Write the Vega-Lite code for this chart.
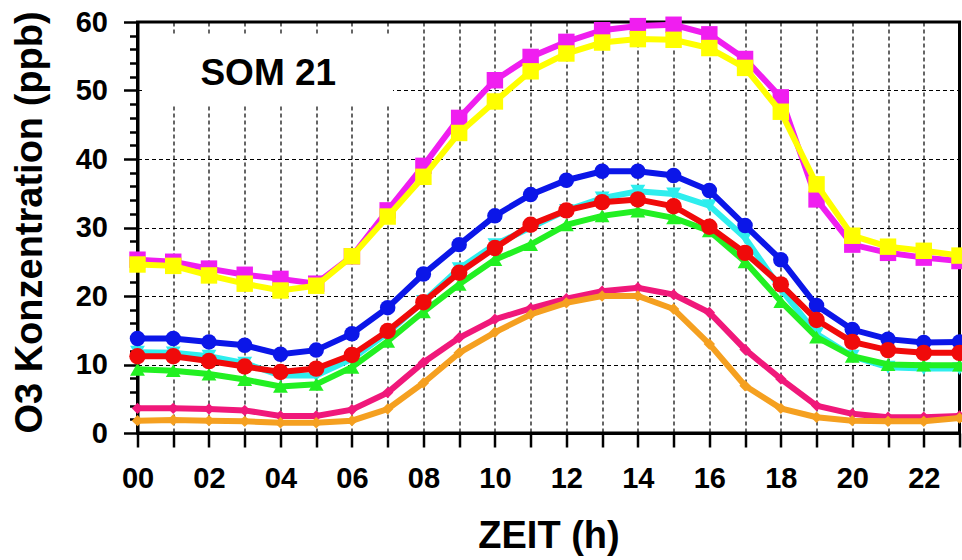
{
  "$schema": "https://vega.github.io/schema/vega-lite/v6.json",
  "width": 822,
  "height": 411,
  "autosize": {"type": "none"},
  "padding": {"left": 137.5, "top": 22, "right": 2.5, "bottom": 127},
  "background": "white",
  "config": {
    "view": {"stroke": "black", "strokeWidth": 3},
    "font": "Liberation Sans"
  },
  "data": {"values": [
    {"h":0,"s":"M","v":25.3},{"h":1,"s":"M","v":25.0},{"h":2,"s":"M","v":24.0},{"h":3,"s":"M","v":23.1},{"h":4,"s":"M","v":22.5},{"h":5,"s":"M","v":21.8},{"h":6,"s":"M","v":25.8},{"h":7,"s":"M","v":32.5},{"h":8,"s":"M","v":39.0},{"h":9,"s":"M","v":46.0},{"h":10,"s":"M","v":51.5},{"h":11,"s":"M","v":54.9},{"h":12,"s":"M","v":57.1},{"h":13,"s":"M","v":58.8},{"h":14,"s":"M","v":59.4},{"h":15,"s":"M","v":59.6},{"h":16,"s":"M","v":58.2},{"h":17,"s":"M","v":54.6},{"h":18,"s":"M","v":49.0},{"h":19,"s":"M","v":34.1},{"h":20,"s":"M","v":27.5},{"h":21,"s":"M","v":26.3},{"h":22,"s":"M","v":25.6},{"h":23,"s":"M","v":25.1},
    {"h":0,"s":"Y","v":24.6},{"h":1,"s":"Y","v":24.4},{"h":2,"s":"Y","v":23.0},{"h":3,"s":"Y","v":21.8},{"h":4,"s":"Y","v":20.8},{"h":5,"s":"Y","v":21.5},{"h":6,"s":"Y","v":25.8},{"h":7,"s":"Y","v":31.6},{"h":8,"s":"Y","v":37.4},{"h":9,"s":"Y","v":43.8},{"h":10,"s":"Y","v":48.4},{"h":11,"s":"Y","v":52.8},{"h":12,"s":"Y","v":55.4},{"h":13,"s":"Y","v":57.0},{"h":14,"s":"Y","v":57.5},{"h":15,"s":"Y","v":57.4},{"h":16,"s":"Y","v":56.2},{"h":17,"s":"Y","v":53.3},{"h":18,"s":"Y","v":46.9},{"h":19,"s":"Y","v":36.3},{"h":20,"s":"Y","v":28.8},{"h":21,"s":"Y","v":27.2},{"h":22,"s":"Y","v":26.6},{"h":23,"s":"Y","v":25.9},
    {"h":0,"s":"C","v":11.8},{"h":1,"s":"C","v":11.7},{"h":2,"s":"C","v":11.2},{"h":3,"s":"C","v":10.2},{"h":4,"s":"C","v":8.4},{"h":5,"s":"C","v":8.4},{"h":6,"s":"C","v":10.8},{"h":7,"s":"C","v":14.6},{"h":8,"s":"C","v":19.2},{"h":9,"s":"C","v":24.0},{"h":10,"s":"C","v":27.5},{"h":11,"s":"C","v":30.0},{"h":12,"s":"C","v":32.5},{"h":13,"s":"C","v":34.3},{"h":14,"s":"C","v":35.3},{"h":15,"s":"C","v":34.9},{"h":16,"s":"C","v":33.2},{"h":17,"s":"C","v":28.5},{"h":18,"s":"C","v":21.0},{"h":19,"s":"C","v":14.5},{"h":20,"s":"C","v":11.2},{"h":21,"s":"C","v":9.6},{"h":22,"s":"C","v":9.4},{"h":23,"s":"C","v":9.4},
    {"h":0,"s":"G","v":9.3},{"h":1,"s":"G","v":9.1},{"h":2,"s":"G","v":8.6},{"h":3,"s":"G","v":7.8},{"h":4,"s":"G","v":6.8},{"h":5,"s":"G","v":7.1},{"h":6,"s":"G","v":9.6},{"h":7,"s":"G","v":13.4},{"h":8,"s":"G","v":17.7},{"h":9,"s":"G","v":21.7},{"h":10,"s":"G","v":25.3},{"h":11,"s":"G","v":27.5},{"h":12,"s":"G","v":30.4},{"h":13,"s":"G","v":31.7},{"h":14,"s":"G","v":32.4},{"h":15,"s":"G","v":31.4},{"h":16,"s":"G","v":29.5},{"h":17,"s":"G","v":25.0},{"h":18,"s":"G","v":19.2},{"h":19,"s":"G","v":14.0},{"h":20,"s":"G","v":11.2},{"h":21,"s":"G","v":10.0},{"h":22,"s":"G","v":9.9},{"h":23,"s":"G","v":9.9},
    {"h":0,"s":"B","v":13.8},{"h":1,"s":"B","v":13.8},{"h":2,"s":"B","v":13.3},{"h":3,"s":"B","v":12.8},{"h":4,"s":"B","v":11.5},{"h":5,"s":"B","v":12.1},{"h":6,"s":"B","v":14.5},{"h":7,"s":"B","v":18.3},{"h":8,"s":"B","v":23.2},{"h":9,"s":"B","v":27.5},{"h":10,"s":"B","v":31.7},{"h":11,"s":"B","v":34.8},{"h":12,"s":"B","v":36.9},{"h":13,"s":"B","v":38.2},{"h":14,"s":"B","v":38.2},{"h":15,"s":"B","v":37.6},{"h":16,"s":"B","v":35.4},{"h":17,"s":"B","v":30.3},{"h":18,"s":"B","v":25.3},{"h":19,"s":"B","v":18.6},{"h":20,"s":"B","v":15.1},{"h":21,"s":"B","v":13.7},{"h":22,"s":"B","v":13.2},{"h":23,"s":"B","v":13.3},
    {"h":0,"s":"R","v":11.2},{"h":1,"s":"R","v":11.2},{"h":2,"s":"R","v":10.5},{"h":3,"s":"R","v":9.7},{"h":4,"s":"R","v":8.9},{"h":5,"s":"R","v":9.4},{"h":6,"s":"R","v":11.4},{"h":7,"s":"R","v":14.9},{"h":8,"s":"R","v":19.1},{"h":9,"s":"R","v":23.4},{"h":10,"s":"R","v":27.0},{"h":11,"s":"R","v":30.4},{"h":12,"s":"R","v":32.5},{"h":13,"s":"R","v":33.7},{"h":14,"s":"R","v":34.1},{"h":15,"s":"R","v":33.1},{"h":16,"s":"R","v":30.1},{"h":17,"s":"R","v":26.3},{"h":18,"s":"R","v":21.7},{"h":19,"s":"R","v":16.5},{"h":20,"s":"R","v":13.3},{"h":21,"s":"R","v":12.1},{"h":22,"s":"R","v":11.7},{"h":23,"s":"R","v":11.7},
    {"h":0,"s":"P","v":3.6},{"h":1,"s":"P","v":3.6},{"h":2,"s":"P","v":3.5},{"h":3,"s":"P","v":3.3},{"h":4,"s":"P","v":2.5},{"h":5,"s":"P","v":2.5},{"h":6,"s":"P","v":3.4},{"h":7,"s":"P","v":5.9},{"h":8,"s":"P","v":10.3},{"h":9,"s":"P","v":13.9},{"h":10,"s":"P","v":16.6},{"h":11,"s":"P","v":18.2},{"h":12,"s":"P","v":19.6},{"h":13,"s":"P","v":20.7},{"h":14,"s":"P","v":21.2},{"h":15,"s":"P","v":20.2},{"h":16,"s":"P","v":17.6},{"h":17,"s":"P","v":12.2},{"h":18,"s":"P","v":7.9},{"h":19,"s":"P","v":4.0},{"h":20,"s":"P","v":2.8},{"h":21,"s":"P","v":2.3},{"h":22,"s":"P","v":2.3},{"h":23,"s":"P","v":2.5},
    {"h":0,"s":"O","v":1.8},{"h":1,"s":"O","v":1.9},{"h":2,"s":"O","v":1.8},{"h":3,"s":"O","v":1.7},{"h":4,"s":"O","v":1.5},{"h":5,"s":"O","v":1.5},{"h":6,"s":"O","v":1.8},{"h":7,"s":"O","v":3.5},{"h":8,"s":"O","v":7.3},{"h":9,"s":"O","v":11.7},{"h":10,"s":"O","v":14.7},{"h":11,"s":"O","v":17.3},{"h":12,"s":"O","v":19.0},{"h":13,"s":"O","v":20.0},{"h":14,"s":"O","v":20.0},{"h":15,"s":"O","v":18.1},{"h":16,"s":"O","v":13.0},{"h":17,"s":"O","v":6.9},{"h":18,"s":"O","v":3.6},{"h":19,"s":"O","v":2.3},{"h":20,"s":"O","v":1.8},{"h":21,"s":"O","v":1.7},{"h":22,"s":"O","v":1.7},{"h":23,"s":"O","v":2.2}
  ]},
  "encoding": {
    "x": {
      "field": "h", "type": "quantitative",
      "scale": {"domain": [0, 23], "nice": false, "zero": false},
      "axis": {
        "values": [0,1,2,3,4,5,6,7,8,9,10,11,12,13,14,15,16,17,18,19,20,21,22,23],
        "labelExpr": "datum.value % 2 === 0 ? (datum.value < 10 ? '0' : '') + datum.value : ''",
        "labelFlush": false, "labelOverlap": false,
        "labelFontSize": 29, "labelFontWeight": "bold", "labelColor": "black",
        "labelBaseline": "alphabetic", "labelPadding": 40,
        "tickSize": 14, "tickWidth": 2.5, "tickColor": "black",
        "domainColor": "black", "domainWidth": 3,
        "grid": true, "gridColor": "black", "gridDash": [4, 3], "gridWidth": 1.2, "gridOpacity": 1,
        "title": "ZEIT (h)", "titleFontSize": 38, "titleFontWeight": "bold", "titleColor": "black",
        "titleBaseline": "alphabetic", "titleY": 114
      }
    },
    "y": {
      "field": "v", "type": "quantitative",
      "scale": {"domain": [0, 60], "nice": false},
      "axis": {
        "values": [0,2,4,6,8,10,12,14,16,18,20,22,24,26,28,30,32,34,36,38,40,42,44,46,48,50,52,54,56,58,60],
        "labelExpr": "datum.value % 10 === 0 ? datum.label : ''",
        "labelFontSize": 29, "labelFontWeight": "bold", "labelColor": "black",
        "labelPadding": 16, "labelOverlap": false, "labelFlush": false,
        "tickSize": {"condition": {"test": "datum.value % 10 === 0", "value": 14}, "value": 8},
        "tickWidth": 2.5, "tickColor": "black",
        "domainColor": "black", "domainWidth": 3,
        "grid": true, "gridColor": "black", "gridDash": [4, 3], "gridWidth": 1.2,
        "gridOpacity": {"condition": {"test": "datum.value % 10 === 0", "value": 1}, "value": 0},
        "title": "O3 Konzentration (ppb)", "titleFontSize": 38, "titleFontWeight": "bold", "titleColor": "black",
        "titleAngle": 270, "titleBaseline": "bottom", "titleX": -88, "titleY": 200, "titleAlign": "center"
      }
    }
  },
  "layer": [
    {
      "transform": [{"filter": "datum.s === 'M' && datum.h === 0"}],
      "mark": {"type": "rect", "color": "white", "opacity": 1},
      "encoding": {"x": {"datum": 0.2}, "x2": {"datum": 7.15}, "y": {"datum": 47.9}, "y2": {"datum": 58.1}}
    },
    {
      "transform": [{"filter": "datum.s === 'M' && datum.h === 0"}],
      "mark": {"type": "text", "fontSize": 37, "fontWeight": "bold", "color": "black", "baseline": "middle", "align": "center", "text": "SOM 21"},
      "encoding": {"x": {"datum": 3.66}, "y": {"datum": 52.4}}
    },
    {
      "transform": [{"filter": "datum.s === 'M'"}],
      "mark": {"type": "line", "color": "#F01EF0", "strokeWidth": 6, "point": {"shape": "square", "size": 270, "filled": true, "color": "#F01EF0"}}
    },
    {
      "transform": [{"filter": "datum.s === 'Y'"}],
      "mark": {"type": "line", "color": "#FFFF00", "strokeWidth": 6, "point": {"shape": "square", "size": 270, "filled": true, "color": "#FFFF00"}}
    },
    {
      "transform": [{"filter": "datum.s === 'C'"}],
      "mark": {"type": "line", "color": "#2EEEEE", "strokeWidth": 6, "point": {"shape": "triangle-down", "size": 220, "filled": true, "color": "#2EEEEE"}}
    },
    {
      "transform": [{"filter": "datum.s === 'G'"}],
      "mark": {"type": "line", "color": "#22F022", "strokeWidth": 6, "point": {"shape": "triangle-up", "size": 220, "filled": true, "color": "#22F022"}}
    },
    {
      "transform": [{"filter": "datum.s === 'B'"}],
      "mark": {"type": "line", "color": "#0B16E8", "strokeWidth": 6, "point": {"shape": "circle", "size": 240, "filled": true, "color": "#0B16E8"}}
    },
    {
      "transform": [{"filter": "datum.s === 'R'"}],
      "mark": {"type": "line", "color": "#F00A0A", "strokeWidth": 6, "point": {"shape": "circle", "size": 270, "filled": true, "color": "#F00A0A"}}
    },
    {
      "transform": [{"filter": "datum.s === 'P'"}],
      "mark": {"type": "line", "color": "#F0187A", "strokeWidth": 6, "point": {"shape": "diamond", "size": 130, "filled": true, "color": "#F0187A"}}
    },
    {
      "transform": [{"filter": "datum.s === 'O'"}],
      "mark": {"type": "line", "color": "#F5A020", "strokeWidth": 6, "point": {"shape": "diamond", "size": 130, "filled": true, "color": "#F5A020"}}
    }
  ]
}
